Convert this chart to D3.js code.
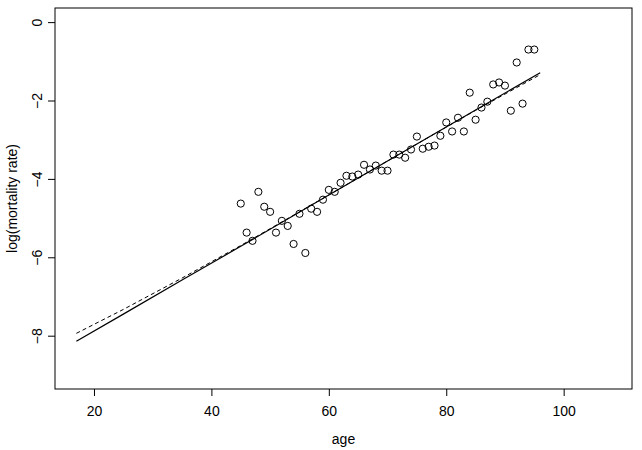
<!DOCTYPE html>
<html>
<head>
<meta charset="utf-8">
<script src="https://cdn.jsdelivr.net/npm/d3@7"></script>
<style>
	body { margin: 0; background: #fff; }
	svg text { font-family: "Liberation Sans", Arial, sans-serif; }
</style>
</head>
<body>
<div id="chartDiv"></div>
<script>
// observed log mortality rates by age
var ages = [45, 46, 47, 48, 49, 50, 51, 52, 53, 54, 55, 56, 57, 58, 59, 60, 61, 62, 63, 64,
	65, 66, 67, 68, 69, 70, 71, 72, 73, 74, 75, 76, 77, 78, 79, 80, 81, 82, 83, 84,
	85, 86, 87, 88, 89, 90, 91, 92, 93, 94, 95];
var logRates = [-4.63, -5.37, -5.58, -4.33, -4.71, -4.84, -5.37, -5.07, -5.20, -5.66,
	-4.89, -5.89, -4.76, -4.84, -4.53, -4.28, -4.33, -4.10, -3.92, -3.94,
	-3.89, -3.64, -3.76, -3.66, -3.79, -3.79, -3.38, -3.38, -3.46, -3.25,
	-2.92, -3.23, -3.18, -3.15, -2.90, -2.56, -2.79, -2.44, -2.79, -1.80,
	-2.49, -2.18, -2.03, -1.59, -1.54, -1.62, -2.26, -1.03, -2.08, -0.70, -0.70];

// fitted curves
var fitAges = [17, 25, 35, 45, 60, 75, 85, 96];
var fitSolid = [-8.14, -7.45, -6.58, -5.72, -4.41, -3.11, -2.24, -1.29];
var fitDashed = [-7.94, -7.33, -6.53, -5.70, -4.41, -3.11, -2.25, -1.34];

var xTicks = [20, 40, 60, 80, 100];
var yTicks = [0, -2, -4, -6, -8];
var xAxisLabelHeader = "age";
var yAxisLabelHeader = "log(mortality rate)";

var width = 642, height = 450;
var margin = { top: 8, right: 10, bottom: 61, left: 55 };
var chartWidth = width - margin.left - margin.right;
var chartHeight = height - margin.top - margin.bottom;

var svg = d3.select("#chartDiv").append("svg")
	.attr("width", width)
	.attr("height", height);

var plotArea = svg.append("g")
	.attr("transform", "translate(" + margin.left + "," + margin.top + ")");

// R style: 4% padding around xlim / ylim
var xScale = d3.scaleLinear().domain([13.36, 111.64]).range([0, chartWidth]);
var yScale = d3.scaleLinear().domain([-9.36, 0.36]).range([chartHeight, 0]);

// x axis
var xAxis = d3.axisBottom(xScale).tickValues(xTicks).tickSize(7).tickPadding(10.5).tickSizeOuter(0);
var xg = svg.append("g")
	.attr("transform", "translate(" + margin.left + "," + (margin.top + chartHeight) + ")")
	.call(xAxis);
xg.select(".domain").remove();
xg.selectAll("text").style("font-size", "14px").attr("fill", "#000");
xg.selectAll("line").attr("stroke", "#000");

// y axis, labels parallel to the axis
var yAxis = d3.axisLeft(yScale).tickValues(yTicks).tickSize(7).tickSizeOuter(0);
var yg = svg.append("g")
	.attr("transform", "translate(" + margin.left + "," + margin.top + ")")
	.call(yAxis);
yg.select(".domain").remove();
yg.selectAll("line").attr("stroke", "#000");
yg.selectAll("text")
	.style("font-size", "14px")
	.attr("fill", "#000")
	.attr("x", null).attr("dy", null)
	.attr("text-anchor", "middle")
	.attr("transform", "translate(-13.5,0) rotate(-90)");

// box
plotArea.append("rect")
	.attr("width", chartWidth)
	.attr("height", chartHeight)
	.attr("fill", "none")
	.attr("stroke", "#000");

var line = d3.line()
	.x(function(d) { return xScale(d[0]); })
	.y(function(d) { return yScale(d[1]); });

plotArea.append("path")
	.datum(d3.zip(fitAges, fitSolid))
	.attr("d", line)
	.attr("fill", "none")
	.attr("stroke", "#000")
	.attr("stroke-width", 1.2);

plotArea.append("path")
	.datum(d3.zip(fitAges, fitDashed))
	.attr("d", line)
	.attr("fill", "none")
	.attr("stroke", "#000")
	.attr("stroke-dasharray", "4,3");

plotArea.selectAll(".dot")
	.data(d3.zip(ages, logRates))
	.enter().append("circle")
	.attr("class", "dot")
	.attr("cx", function(d) { return xScale(d[0]); })
	.attr("cy", function(d) { return yScale(d[1]); })
	.attr("r", 3.6)
	.attr("fill", "none")
	.attr("stroke", "#000");

// axis titles
svg.append("text")
	.style("font-size", "14px")
	.attr("text-anchor", "middle")
	.attr("x", margin.left + chartWidth / 2)
	.attr("y", 444)
	.text(xAxisLabelHeader);

svg.append("text")
	.style("font-size", "14px")
	.attr("text-anchor", "middle")
	.attr("transform", "translate(17," + (margin.top + chartHeight / 2) + ") rotate(-90)")
	.text(yAxisLabelHeader);
</script>
</body>
</html>
